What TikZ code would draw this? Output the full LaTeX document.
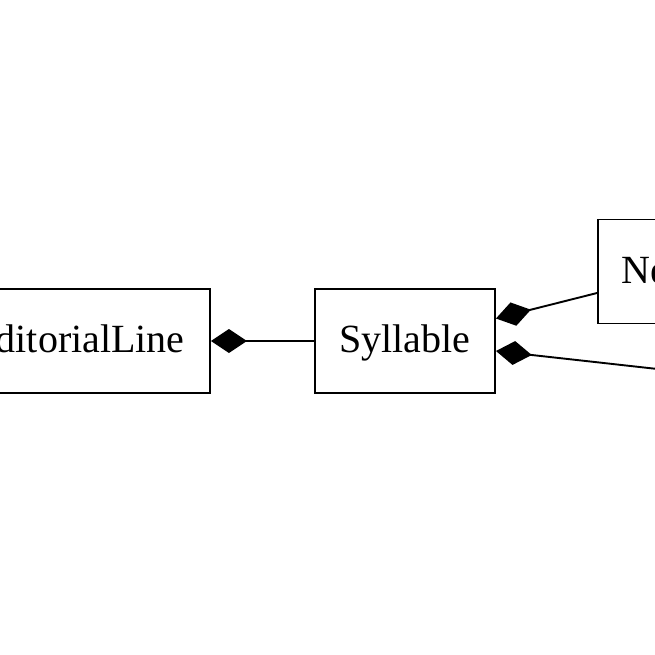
\documentclass[tikz,border=0pt]{standalone}
\usepackage{fontspec}
\setmainfont{Liberation Serif}
\usetikzlibrary{arrows.meta}
\begin{document}
\begin{tikzpicture}[x=1pt,y=-1pt, line width=1.9pt,
  box/.style={draw, fill=white, font=\fontsize{40}{48}\selectfont, minimum height=104pt, inner sep=0pt, text height=31pt, text depth=8pt, anchor=center},
  comp/.style={{Diamond[length=36pt,width=24pt]}-}]
\useasboundingbox (0,0) rectangle (655,655);
\clip (0,0) rectangle (655,655);
\node[box, minimum width=264pt] (ed) at (78,341) {EditorialLine};
\node[box, minimum width=180pt] (syl) at (405,341) {Syllable};
\node[box, minimum width=162pt] (ne) at (679,271.5) {Neume};
\coordinate (c4) at (662,369.5);
\draw[comp] (ed.east) -- (syl.west);
\draw[comp] ([yshift=22.5pt]syl.east) -- ([yshift=-21.5pt]ne.west);
\draw[comp] ([yshift=-10pt]syl.east) -- (c4);
\end{tikzpicture}
\end{document}
